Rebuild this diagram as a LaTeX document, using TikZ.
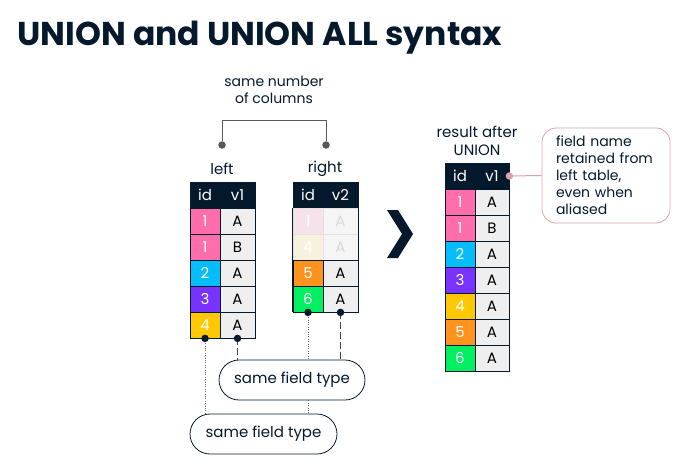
\documentclass[tikz,border=0pt]{standalone}
\usepackage{fontspec}
\setmainfont{Poppins}
\usetikzlibrary{positioning}
\definecolor{navy}{HTML}{05192D}
\definecolor{pinkc}{HTML}{FF6EA9}
\definecolor{bluec}{HTML}{06BDFC}
\definecolor{purplec}{HTML}{7933FF}
\definecolor{yellowc}{HTML}{FFC800}
\definecolor{orangec}{HTML}{FF931E}
\definecolor{greenc}{HTML}{03EF62}
\definecolor{cellgray}{HTML}{EFEFEF}
\definecolor{fadepink}{HTML}{F7E1EA}
\definecolor{fadeyellow}{HTML}{F7F2DD}
\definecolor{fadegray}{HTML}{F5F5F5}
\definecolor{fadeline}{HTML}{E2E2E2}
\definecolor{notepink}{HTML}{D9A3AD}

\begin{document}
\begin{tikzpicture}[x=1pt, y=-1pt, font=\fontsize{14}{17}\selectfont,
    cell/.style={draw=navy, line width=0.8pt, minimum height=26pt, inner sep=0pt, font=\fontsize{15}{17}\selectfont},
    headcell/.style={cell, fill=navy, text=white},
    pin/.style={circle, fill=navy, inner sep=0pt, minimum size=7.5pt},
    pill/.style={draw=navy, line width=0.8pt, rounded corners=20pt, minimum height=40pt, fill=white},
    typeline/.style={navy!80, line width=1.2pt, dash pattern=on 7pt off 3pt}]
    \useasboundingbox (0,0) rectangle (682,463);

    \node[anchor=base west, text=navy, font=\bfseries\fontsize{33}{38}\selectfont] (title) at (14,45) {UNION and UNION ALL syntax};

    % column count bracket
    \node[align=center, text=navy] (cols) at (274,90) {same number\\of columns};
    \node[text=navy, font=\fontsize{15}{17}\selectfont] (leftlbl) at (222,169) {left};
    \node[text=navy, font=\fontsize{15}{17}\selectfont] (rightlbl) at (325,169) {right};
    \node[pin, fill=black!65] (lbr) at (222,145) {};
    \node[pin, fill=black!65] (rbr) at (326,145) {};
    \draw[black!65, line width=0.8pt] (lbr) -- ++(0,-25) -| (rbr);

    % left table
    \node[headcell, minimum width=30pt] (lh1) at (205,195) {id};
    \node[headcell, minimum width=35pt] (lh2) at (237.5,195) {v1};
    \foreach \c/\n/\v [count=\i] in {pinkc/1/A, pinkc/1/B, bluec/2/A, purplec/3/A, yellowc/4/A} {
        \node[cell, minimum width=30pt, fill=\c, text=white] (lid\i) at (205,{195+26*\i}) {\n};
        \node[cell, minimum width=35pt, fill=cellgray] (lv\i) at (237.5,{195+26*\i}) {\v};
    }

    % right table
    \node[headcell, minimum width=30pt] (rh1) at (308,195) {id};
    \node[headcell, minimum width=35pt] (rh2) at (340.5,195) {v2};
    \foreach \c/\n/\v/\f/\t/\b [count=\i] in {fadepink/1/A/fadegray/black!15/fadeline, fadeyellow/4/A/fadegray/black!15/fadeline, orangec/5/A/cellgray/black/navy, greenc/6/A/cellgray/black/navy} {
        \node[cell, draw=\b, minimum width=30pt, fill=\c, text=white] (rid\i) at (308,{195+26*\i}) {\n};
        \node[cell, draw=\b, minimum width=35pt, fill=\f, text=\t] (rv\i) at (340.5,{195+26*\i}) {\v};
    }
    \draw[navy, line width=0.8pt] (rh1.south west) -- (rid4.south west) (rh2.south east) -- (rv4.south east);

    % union arrow
    \fill[navy] (387,210) -- (398,210) -- (413,234) -- (398,258) -- (387,258) -- (402,234) -- cycle;

    % result table
    \node[align=center, text=navy, font=\fontsize{15}{18}\selectfont] (reslbl) at (477,141) {result after\\UNION};
    \node[headcell, minimum width=30pt] (uh1) at (460,176) {id};
    \node[headcell, minimum width=34pt] (uh2) at (492,176) {v1};
    \foreach \c/\n/\v [count=\i] in {pinkc/1/A, pinkc/1/B, bluec/2/A, purplec/3/A, yellowc/4/A, orangec/5/A, greenc/6/A} {
        \node[cell, minimum width=30pt, fill=\c, text=white] (uid\i) at (460,{176+26*\i}) {\n};
        \node[cell, minimum width=34pt, fill=cellgray] (uv\i) at (492,{176+26*\i}) {\v};
    }

    % callout
    \node[draw=notepink, line width=0.8pt, rounded corners=14pt, text width=100pt, inner xsep=14pt,
        minimum height=95pt, align=left, text=navy] (note) at (606,175.5) {field name\\retained from\\left table,\\even when\\aliased};
    \draw[notepink, line width=1pt] (uh2.east) -- (note.west);
    \node[pin, fill=notepink] (notepin) at (uh2.east) {};

    % field type pills
    \node[pill, minimum width=146pt, text=navy, font=\fontsize{15}{17}\selectfont] (typeA) at (292,380) {same field type};
    \node[pill, minimum width=147pt, text=navy, font=\fontsize{15}{17}\selectfont] (typeB) at (263.5,434) {same field type};
    \draw[typeline] (lv5.south) -- (lv5.south |- typeA.north);
    \draw[typeline] (rv4.south) -- (rv4.south |- typeA.north);
    \draw[black!60, dotted] (lid5.south) -- (lid5.south |- typeB.north);
    \draw[black!60, dotted] (rid4.south) -- (rid4.south |- typeA.north);
    \draw[black!60, dotted] (rid4.south |- typeA.south) -- (rid4.south |- typeB.north);
    \node[pin] (pinA) at (lid5.south) {};
    \node[pin] (pinB) at (lv5.south) {};
    \node[pin] (pinC) at (rid4.south) {};
    \node[pin] (pinD) at (rv4.south) {};
\end{tikzpicture}
\end{document}
